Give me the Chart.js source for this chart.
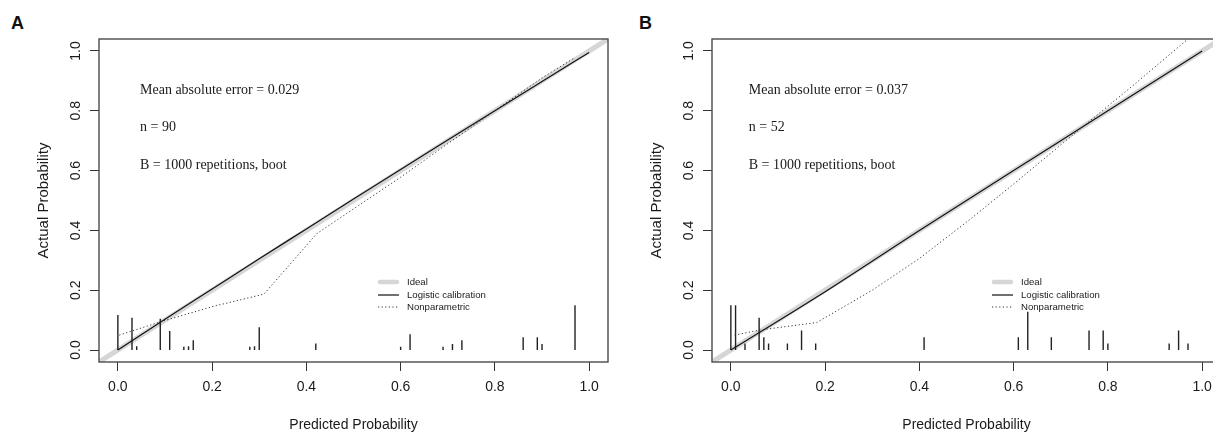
<!DOCTYPE html>
<html><head><meta charset="utf-8">
<script src="https://cdn.jsdelivr.net/npm/chart.js@4.4.1/dist/chart.umd.min.js"></script>
<style>
html,body{margin:0;padding:0;width:1213px;height:432px;overflow:hidden;background:#fff;position:relative;}
.wrap{position:absolute;top:0;width:613px;height:432px;}
.lab{position:absolute;font:bold 18px "Liberation Sans",Arial,sans-serif;line-height:18px;color:#111;}
</style></head><body>
<div class="lab" style="left:11px;top:14px">A</div>
<div class="lab" style="left:639px;top:14px">B</div>
<div class="wrap" style="left:0"><canvas id="ca" width="613" height="432"></canvas></div>
<div class="wrap" style="left:613px"><canvas id="cb" width="613" height="432"></canvas></div>
<script>
// ---- data ----
const X_TICKS = [0, 0.2, 0.4, 0.6, 0.8, 1.0];
const Y_TICKS = [0, 0.2, 0.4, 0.6, 0.8, 1.0];
const IDEAL_X = [-0.05, 1.05];
const IDEAL_Y = [-0.05, 1.05];
const LEGEND_LABELS = ['Ideal', 'Logistic calibration', 'Nonparametric'];

const A_STATS = ['Mean absolute error = 0.029', 'n = 90', 'B = 1000 repetitions, boot'];
const A_LOGISTIC_X = [0, 0.1, 0.2, 0.3, 0.4, 0.5, 0.6, 0.7, 0.8, 0.9, 1.0];
const A_LOGISTIC_Y = [0, 0.103, 0.204, 0.305, 0.405, 0.505, 0.604, 0.702, 0.80, 0.898, 0.995];
const A_NONPAR_X = [0.003, 0.09, 0.2, 0.31, 0.422, 0.5, 0.6, 0.7, 0.8, 0.9, 0.97];
const A_NONPAR_Y = [0.05, 0.094, 0.145, 0.187, 0.389, 0.472, 0.578, 0.69, 0.80, 0.91, 0.978];
const A_SPIKE_X = [0, 0.03, 0.04, 0.09, 0.11, 0.14, 0.15, 0.16, 0.28, 0.29, 0.30, 0.42, 0.60, 0.62, 0.69, 0.71, 0.73, 0.86, 0.89, 0.90, 0.97];
const A_SPIKE_H = [0.117, 0.108, 0.013, 0.105, 0.064, 0.011, 0.013, 0.033, 0.011, 0.013, 0.076, 0.022, 0.011, 0.053, 0.011, 0.02, 0.033, 0.043, 0.043, 0.02, 0.15];

const B_STATS = ['Mean absolute error = 0.037', 'n = 52', 'B = 1000 repetitions, boot'];
const B_LOGISTIC_X = [0, 0.2, 0.4, 0.6, 0.8, 1.0];
const B_LOGISTIC_Y = [0, 0.195, 0.40, 0.60, 0.80, 1.0];
const B_NONPAR_X = [0.008, 0.062, 0.182, 0.3, 0.4, 0.51, 0.6, 0.7, 0.754, 0.85, 0.97];
const B_NONPAR_Y = [0.05, 0.067, 0.092, 0.2, 0.306, 0.44, 0.555, 0.686, 0.756, 0.88, 1.04];
const B_SPIKE_X = [0.0, 0.01, 0.03, 0.06, 0.07, 0.08, 0.12, 0.15, 0.18, 0.41, 0.61, 0.63, 0.68, 0.76, 0.79, 0.80, 0.93, 0.95, 0.97];
const B_SPIKE_H = [0.15, 0.15, 0.022, 0.108, 0.043, 0.022, 0.022, 0.065, 0.022, 0.043, 0.043, 0.128, 0.043, 0.065, 0.065, 0.022, 0.022, 0.065, 0.022];

// ---- styles ----
const SANS = '"Liberation Sans", Arial, sans-serif';
const SERIF = '"Liberation Serif", "Times New Roman", serif';
const IDEAL_COLOR = '#d6d6d6';
const LOGI_COLOR = '#111111';
const NONPAR_COLOR = '#333333';
const NONPAR_DASH = [1.2, 2.4];
const TEXT_COLOR = '#1a1a1a';

function pts(xs, ys) { return xs.map((x, i) => ({x: x, y: ys[i]})); }
function spikes(xs, hs) {
  const out = [];
  xs.forEach((x, i) => { out.push({x: x, y: 0}, {x: x, y: hs[i]}, {x: x, y: null}); });
  return out;
}

function overlay(p) {
  return {
    id: 'overlay',
    afterDatasetsDraw(chart) {
      const ctx = chart.ctx;
      const a = chart.chartArea;
      const xs = chart.scales.x;
      ctx.save();
      // box
      ctx.strokeStyle = '#4a4a4a';
      ctx.lineWidth = 1.4;
      ctx.strokeRect(a.left, a.top, a.right - a.left, a.bottom - a.top);
      // stats text
      ctx.fillStyle = TEXT_COLOR;
      ctx.font = '14px ' + SERIF;
      ctx.textBaseline = 'alphabetic';
      ctx.textAlign = 'left';
      const tx = xs.getPixelForValue(p.textX);
      const offs = [55, 92, 129.5];
      p.stats.forEach((s, i) => ctx.fillText(s, tx, a.top + offs[i]));
      // legend
      const lx = a.left + p.legX;
      const ly = [243, 256, 268].map(v => a.top + v);
      ctx.font = '9.6px ' + SANS;
      ctx.textBaseline = 'middle';
      ctx.lineCap = 'round';
      ctx.strokeStyle = IDEAL_COLOR; ctx.lineWidth = 4.5;
      ctx.beginPath(); ctx.moveTo(lx + 2, ly[0]); ctx.lineTo(lx + 19, ly[0]); ctx.stroke();
      ctx.lineCap = 'butt';
      ctx.strokeStyle = LOGI_COLOR; ctx.lineWidth = 1.2;
      ctx.beginPath(); ctx.moveTo(lx, ly[1]); ctx.lineTo(lx + 21, ly[1]); ctx.stroke();
      ctx.strokeStyle = NONPAR_COLOR; ctx.lineWidth = 1; ctx.setLineDash(NONPAR_DASH);
      ctx.beginPath(); ctx.moveTo(lx, ly[2]); ctx.lineTo(lx + 21, ly[2]); ctx.stroke();
      ctx.setLineDash([]);
      LEGEND_LABELS.forEach((s, i) => ctx.fillText(s, lx + 29, ly[i]));
      ctx.restore();
    }
  };
}

function makeChart(id, p) {
  const tickFont = {family: SANS, size: 14};
  return new Chart(document.getElementById(id), {
    type: 'line',
    data: {
      datasets: [
        {label: 'Nonparametric', data: pts(p.npX, p.npY), borderColor: NONPAR_COLOR, borderWidth: 1, borderDash: NONPAR_DASH, pointRadius: 0, tension: 0},
        {label: 'Logistic calibration', data: pts(p.lgX, p.lgY), borderColor: LOGI_COLOR, borderWidth: 1.2, pointRadius: 0, cubicInterpolationMode: 'monotone'},
        {label: 'Spikes', data: spikes(p.spX, p.spH), borderColor: '#222', borderWidth: 1.4, pointRadius: 0, spanGaps: false},
        {label: 'Ideal', data: pts(IDEAL_X, IDEAL_Y), borderColor: IDEAL_COLOR, borderWidth: 5, pointRadius: 0}
      ]
    },
    options: {
      responsive: false, animation: false, events: [],
      layout: {padding: {top: 39, right: 5, left: 0, bottom: 0}},
      plugins: {legend: {display: false}, tooltip: {enabled: false}},
      scales: {
        x: {
          type: 'linear', min: -0.04, max: 1.04,
          afterBuildTicks: s => { s.ticks = X_TICKS.map(v => ({value: v})); },
          afterFit: s => { s.height = 70; },
          ticks: {font: tickFont, color: TEXT_COLOR, padding: 8, minRotation: 0, maxRotation: 0, autoSkip: false, callback: v => Number(v).toFixed(1)},
          grid: {drawOnChartArea: false, tickLength: 9, color: '#333', tickColor: '#333', tickWidth: 1},
          border: {display: false},
          title: {display: true, text: 'Predicted Probability', color: TEXT_COLOR, font: {family: SANS, size: 14, lineHeight: 1}, padding: 0}
        },
        y: {
          type: 'linear', min: -0.04, max: 1.04,
          afterBuildTicks: s => { s.ticks = Y_TICKS.map(v => ({value: v})); },
          afterFit: s => { s.width = 99; },
          ticks: {font: tickFont, color: TEXT_COLOR, padding: 4, minRotation: 90, maxRotation: 90, crossAlign: 'center', align: 'center', autoSkip: false, callback: v => Number(v).toFixed(1)},
          grid: {drawOnChartArea: false, tickLength: 9, color: '#333', tickColor: '#333', tickWidth: 1},
          border: {display: false},
          title: {display: true, text: 'Actual Probability', color: TEXT_COLOR, font: {family: SANS, size: 15, lineHeight: 1}, padding: {top: 36.5, bottom: 0}}
        }
      }
    },
    plugins: [overlay(p)]
  });
}

makeChart('ca', {stats: A_STATS, textX: 0.047, legX: 279, npX: A_NONPAR_X, npY: A_NONPAR_Y, lgX: A_LOGISTIC_X, lgY: A_LOGISTIC_Y, spX: A_SPIKE_X, spH: A_SPIKE_H});
makeChart('cb', {stats: B_STATS, textX: 0.038, legX: 280, npX: B_NONPAR_X, npY: B_NONPAR_Y, lgX: B_LOGISTIC_X, lgY: B_LOGISTIC_Y, spX: B_SPIKE_X, spH: B_SPIKE_H});
</script>
</body></html>
